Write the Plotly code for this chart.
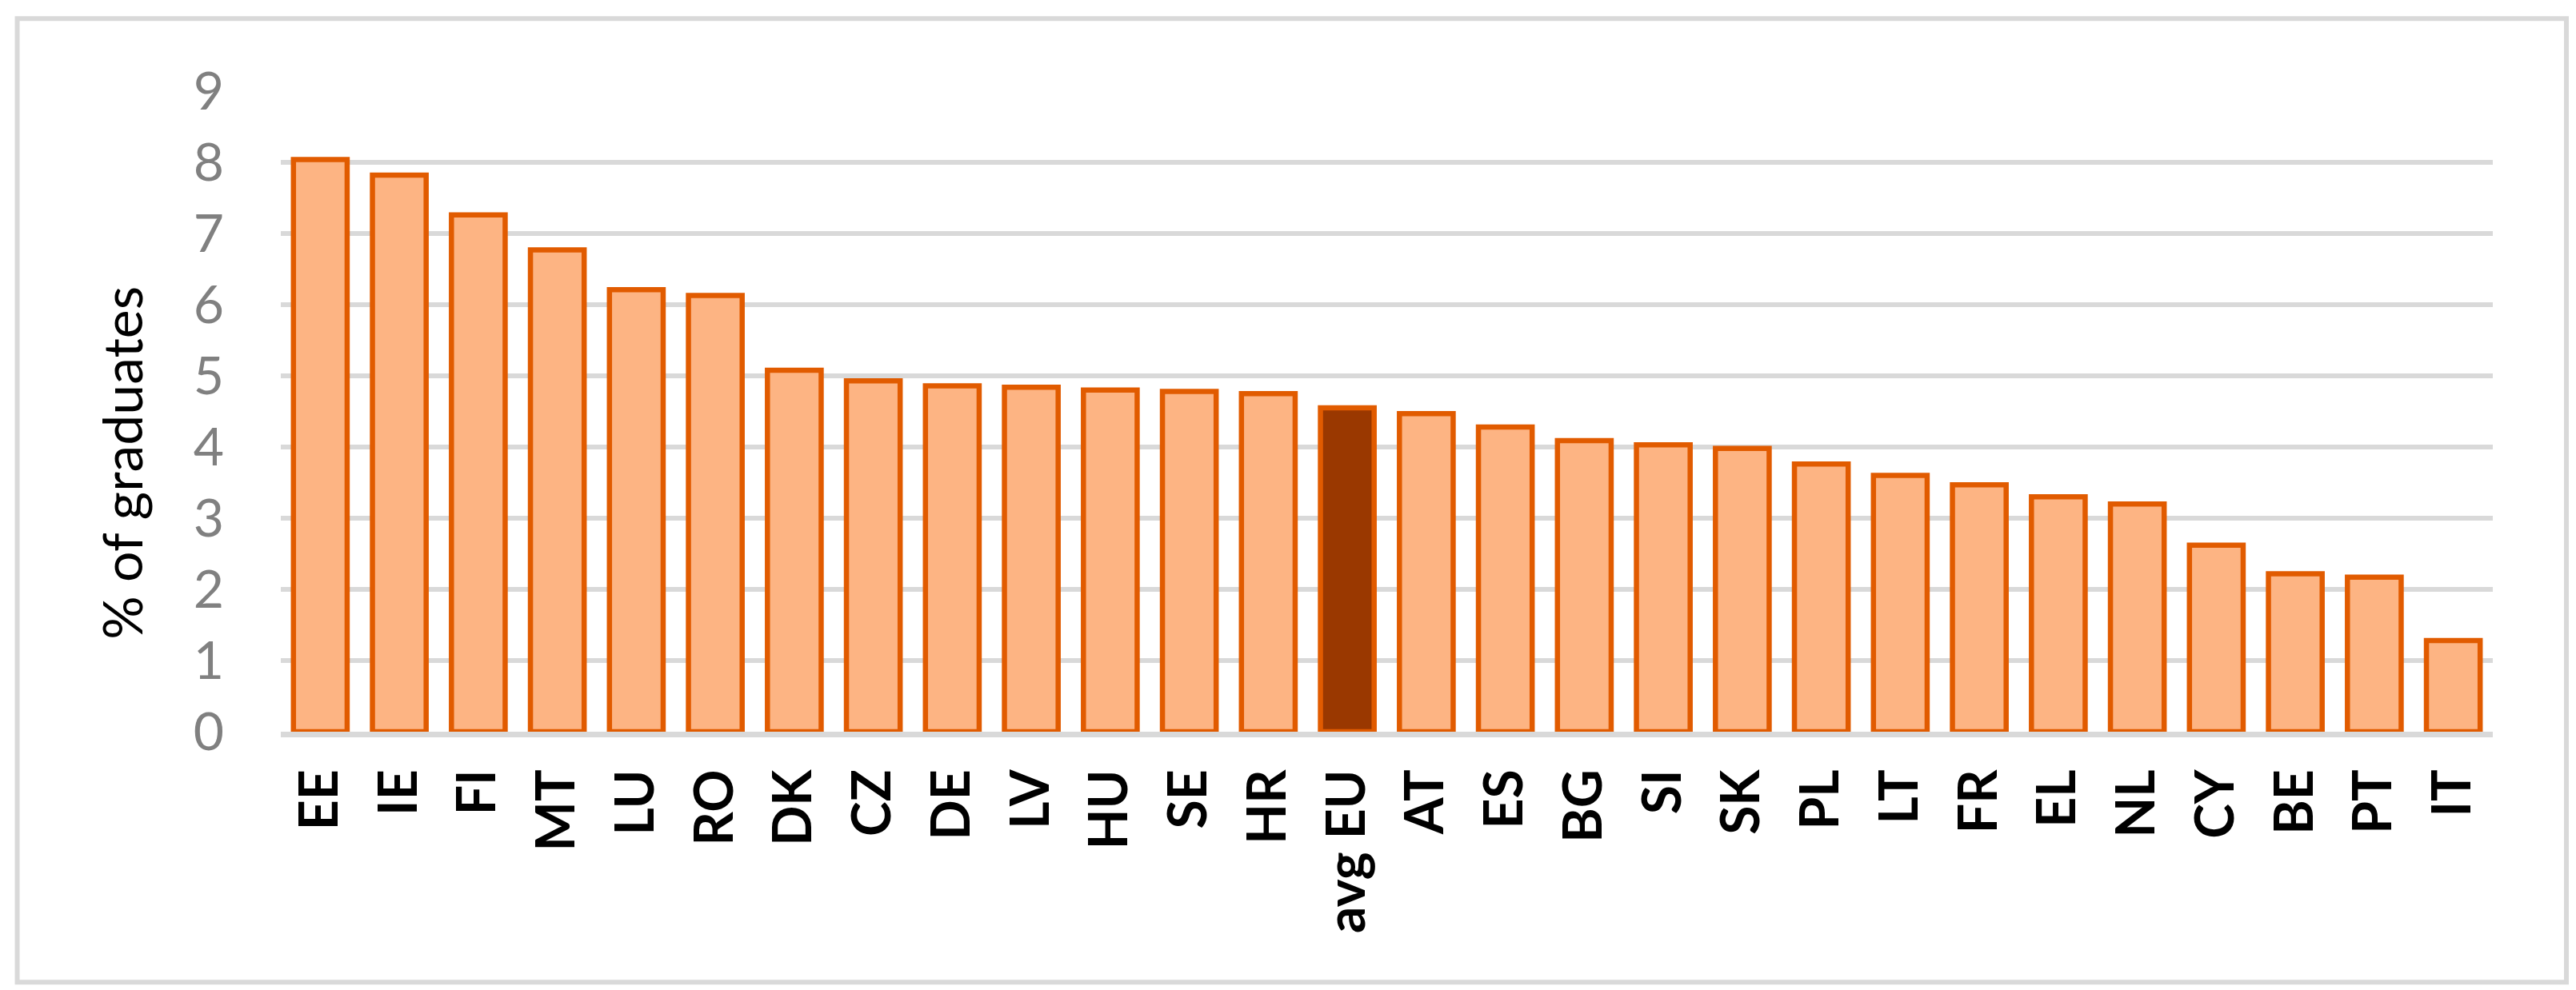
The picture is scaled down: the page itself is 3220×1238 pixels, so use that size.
import plotly.graph_objects as go

# share of graduates, by country
countries = ["EE", "IE", "FI", "MT", "LU", "RO", "DK", "CZ", "DE", "LV", "HU", "SE", "HR",
             "avg EU", "AT", "ES", "BG", "SI", "SK", "PL", "LT", "FR", "EL", "NL", "CY",
             "BE", "PT", "IT"]
values = [8.04, 7.82, 7.26, 6.77, 6.21, 6.13, 5.08, 4.93, 4.86, 4.84, 4.80, 4.78, 4.75,
          4.55, 4.47, 4.28, 4.09, 4.03, 3.98, 3.76, 3.60, 3.47, 3.30, 3.20, 2.62,
          2.22, 2.17, 1.28]
highlight = "avg EU"

fill = ["#9A3800" if c == highlight else "#FDB483" for c in countries]

fig = go.Figure(go.Bar(
    x=countries,
    y=values,
    marker=dict(color=fill, line=dict(color="#E15B00", width=6.5)),
))

W, H = 3220, 1238
left, right, top, bottom = 342.5, 112, 105.7, 331.3
pw = W - left - right
ph = H - top - bottom

fig.update_layout(
    width=W,
    height=H,
    margin=dict(l=left, r=right, t=top, b=bottom, pad=0),
    plot_bgcolor="white",
    paper_bgcolor="white",
    bargap=0.32,
    showlegend=False,
    font=dict(family="Lato"),
)
fig.update_yaxes(
    range=[0, 9],
    dtick=1,
    showgrid=True,
    gridcolor="#D9D9D9",
    gridwidth=6,
    zeroline=False,
    showline=False,
    tickfont=dict(family="Lato", size=66, color="#808080"),
    ticklabelstandoff=70,
)
fig.update_xaxes(
    showline=True,
    linecolor="#D9D9D9",
    linewidth=7,
    layer="above traces",
    tickangle=-90,
    tickfont=dict(family="Lato", size=66, color="black", weight="bold"),
    ticklabelstandoff=14,
)

# y axis title
fig.add_annotation(
    text="% of graduates",
    xref="paper", yref="paper",
    x=(143 - left) / pw, y=(H - bottom - 571) / ph,
    textangle=-90,
    showarrow=False,
    xanchor="center", yanchor="middle",
    font=dict(family="Lato", size=68, color="black"),
)

# outer chart border
fig.add_shape(
    type="rect",
    xref="paper", yref="paper",
    x0=(13 - left) / pw, x1=(3200 - left) / pw,
    y0=(H - bottom - 1220) / ph, y1=(H - bottom - 15) / ph,
    line=dict(color="#D9D9D9", width=6),
    fillcolor="rgba(0,0,0,0)",
    layer="below",
)

fig.write_html("out.html")
